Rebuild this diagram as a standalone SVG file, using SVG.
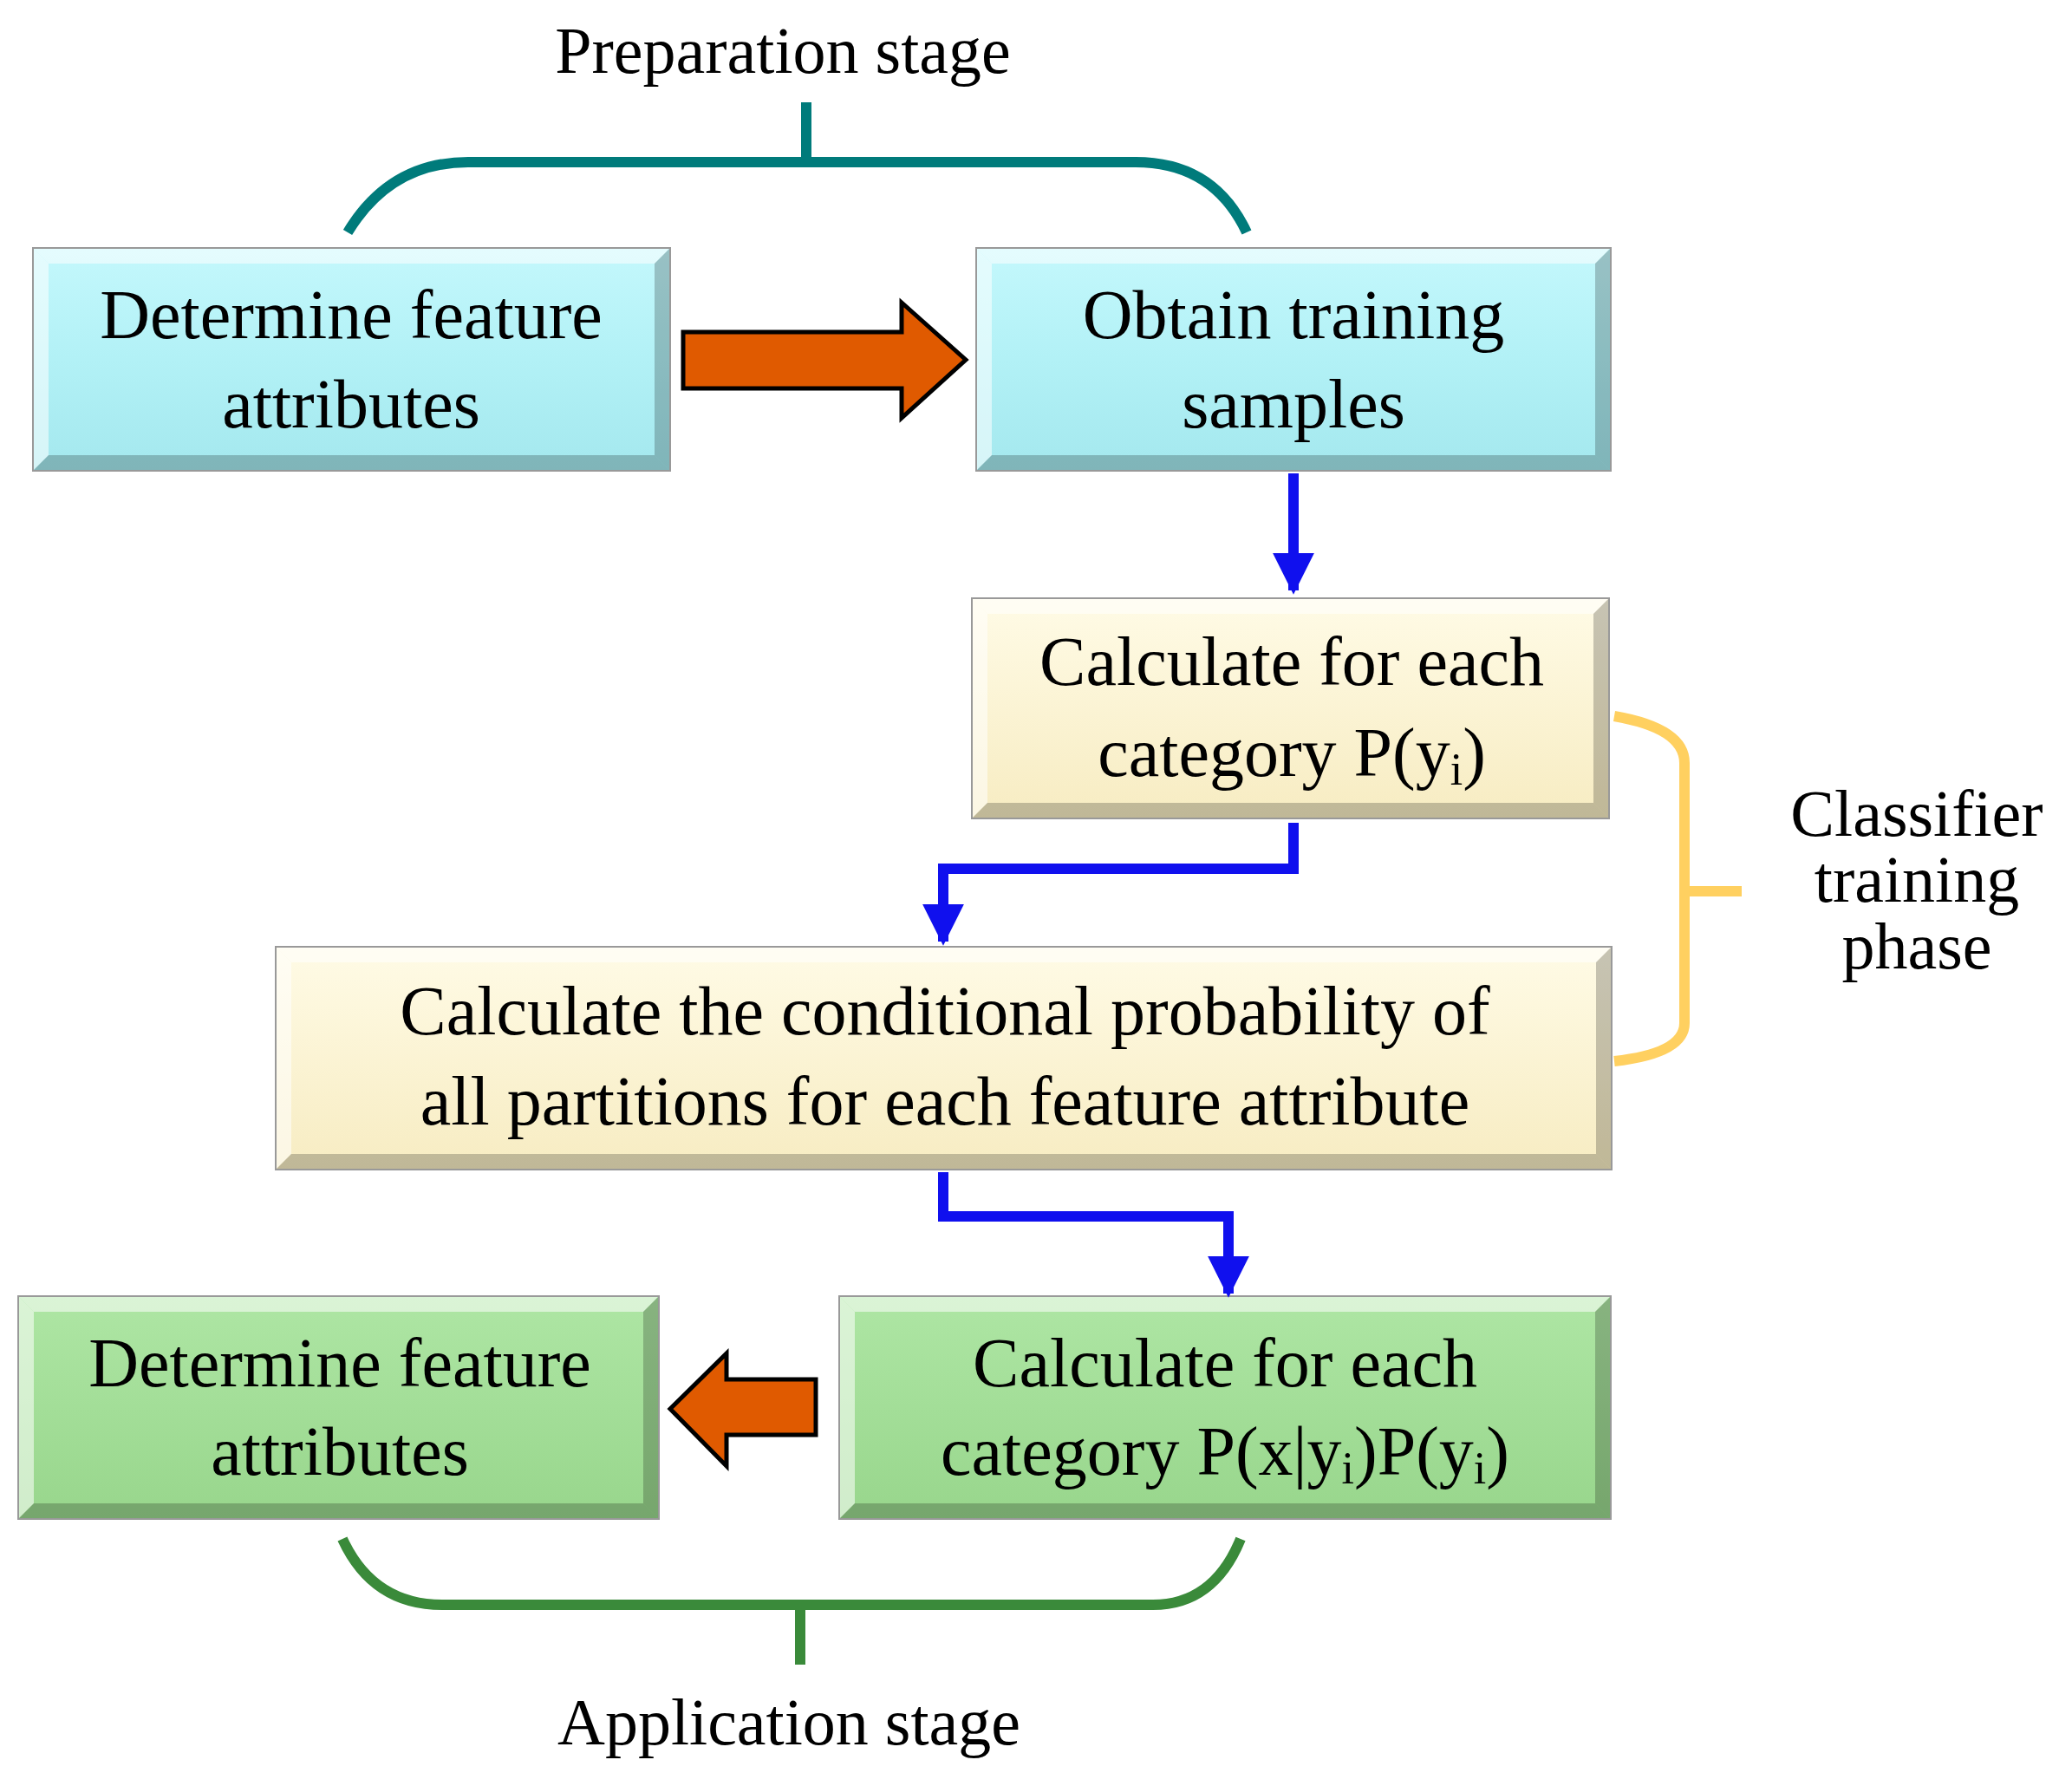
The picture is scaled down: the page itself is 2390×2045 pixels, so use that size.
<svg xmlns="http://www.w3.org/2000/svg" width="2390" height="2045" viewBox="0 0 2390 2045">
<defs>
<linearGradient id="gc" x1="0" y1="0" x2="0" y2="1"><stop offset="0" stop-color="#c4f8fc"/><stop offset="0.5" stop-color="#b2f1f6"/><stop offset="1" stop-color="#a4e8ee"/></linearGradient>
<linearGradient id="gy" x1="0" y1="0" x2="0" y2="1"><stop offset="0" stop-color="#fffbe6"/><stop offset="1" stop-color="#f7ecc2"/></linearGradient>
<linearGradient id="gg" x1="0" y1="0" x2="0" y2="1"><stop offset="0" stop-color="#aee6a4"/><stop offset="1" stop-color="#98d68c"/></linearGradient>
<marker id="ab" viewBox="0 0 10 10" refX="9" refY="5" markerWidth="4" markerHeight="4" orient="auto" markerUnits="strokeWidth"><path d="M0,0 L10,5 L0,10 Z" fill="#1010ee"/></marker>
</defs>
<style>
.t{font-family:"Liberation Serif",serif;font-size:80px;fill:#000;text-anchor:middle}
.s{font-size:52px}
.hl{fill:#fff;opacity:0.55}
.sh{fill:#000;opacity:0.22}
.bd{fill:none;stroke:#999;stroke-width:2}
.bl{fill:none;stroke:#1010ee;stroke-width:12;marker-end:url(#ab)}
.br{fill:none;stroke-width:12}
.oa{fill:#e05a00;stroke:#000;stroke-width:5;stroke-linejoin:miter}
</style>
<rect width="2390" height="2045" fill="#fff"/>

<g id="n1">
<rect x="38" y="286" width="735" height="257" fill="url(#gc)"/>
<polygon class="hl" points="38,286 773,286 755,304 56,304"/><polygon class="hl" points="38,286 56,304 56,525 38,543"/>
<polygon class="sh" points="38,543 773,543 755,525 56,525"/><polygon class="sh" points="773,286 773,543 755,525 755,304"/>
<rect class="bd" x="38" y="286" width="735" height="257"/>
<text class="t" x="405" y="390">Determine feature</text><text class="t" x="405" y="493">attributes</text>
</g>
<g id="n2">
<rect x="1126" y="286" width="732" height="257" fill="url(#gc)"/>
<polygon class="hl" points="1126,286 1858,286 1840,304 1144,304"/><polygon class="hl" points="1126,286 1144,304 1144,525 1126,543"/>
<polygon class="sh" points="1126,543 1858,543 1840,525 1144,525"/><polygon class="sh" points="1858,286 1858,543 1840,525 1840,304"/>
<rect class="bd" x="1126" y="286" width="732" height="257"/>
<text class="t" x="1492" y="390">Obtain training</text><text class="t" x="1492" y="493">samples</text>
</g>
<g id="n3">
<rect x="1121" y="690" width="735" height="254" fill="url(#gy)"/>
<polygon class="hl" points="1121,690 1856,690 1838,708 1139,708"/><polygon class="hl" points="1121,690 1139,708 1139,926 1121,944"/>
<polygon class="sh" points="1121,944 1856,944 1838,926 1139,926"/><polygon class="sh" points="1856,690 1856,944 1838,926 1838,708"/>
<rect class="bd" x="1121" y="690" width="735" height="254"/>
<text class="t" x="1490" y="790">Calculate for each</text><text class="t" x="1490" y="895">category P(y<tspan class="s" dy="10">i</tspan><tspan dy="-10">)</tspan></text>
</g>
<g id="n4">
<rect x="318" y="1092" width="1541" height="257" fill="url(#gy)"/>
<polygon class="hl" points="318,1092 1859,1092 1841,1110 336,1110"/><polygon class="hl" points="318,1092 336,1110 336,1331 318,1349"/>
<polygon class="sh" points="318,1349 1859,1349 1841,1331 336,1331"/><polygon class="sh" points="1859,1092 1859,1349 1841,1331 1841,1110"/>
<rect class="bd" x="318" y="1092" width="1541" height="257"/>
<text class="t" x="1090" y="1193">Calculate the conditional probability of</text><text class="t" x="1090" y="1297">all partitions for each feature attribute</text>
</g>
<g id="n5">
<rect x="21" y="1495" width="739" height="257" fill="url(#gg)"/>
<polygon class="hl" points="21,1495 760,1495 742,1513 39,1513"/><polygon class="hl" points="21,1495 39,1513 39,1734 21,1752"/>
<polygon class="sh" points="21,1752 760,1752 742,1734 39,1734"/><polygon class="sh" points="760,1495 760,1752 742,1734 742,1513"/>
<rect class="bd" x="21" y="1495" width="739" height="257"/>
<text class="t" x="392" y="1599">Determine feature</text><text class="t" x="392" y="1701">attributes</text>
</g>
<g id="n6">
<rect x="968" y="1495" width="890" height="257" fill="url(#gg)"/>
<polygon class="hl" points="968,1495 1858,1495 1840,1513 986,1513"/><polygon class="hl" points="968,1495 986,1513 986,1734 968,1752"/>
<polygon class="sh" points="968,1752 1858,1752 1840,1734 986,1734"/><polygon class="sh" points="1858,1495 1858,1752 1840,1734 1840,1513"/>
<rect class="bd" x="968" y="1495" width="890" height="257"/>
<text class="t" x="1413" y="1599">Calculate for each</text><text class="t" x="1413" y="1701">category P(x|y<tspan class="s" dy="10">i</tspan><tspan dy="-10">)P(y</tspan><tspan class="s" dy="10">i</tspan><tspan dy="-10">)</tspan></text>
</g>

<g id="labels">
<text class="t" x="903" y="84" style="font-size:76px">Preparation stage</text>
<text class="t" x="910" y="2012" style="font-size:76px">Application stage</text>
<text class="t" x="2211" y="964" style="font-size:76px">Classifier</text>
<text class="t" x="2211" y="1040" style="font-size:76px">training</text>
<text class="t" x="2211" y="1117" style="font-size:76px">phase</text>
</g>

<g id="connectors">
<path class="br" stroke="#007b7b" d="M930,118 V187 M401,268 Q450,187 540,187 H1310 Q1400,187 1438,268"/>
<path class="br" stroke="#ffd060" d="M1862,826 Q1943,840 1943,880 V1180 Q1943,1215 1862,1224 M1943,1028 H2009"/>
<path class="br" stroke="#3a8a3a" d="M923,1851 V1920 M395,1775 Q430,1851 510,1851 H1330 Q1400,1851 1431,1775"/>
<polygon class="oa" points="788,383 1040,383 1040,349 1114,415 1040,482 1040,448 788,448"/>
<polygon class="oa" points="941,1591 838,1591 838,1561 773,1625 838,1691 838,1655 941,1655"/>
<path class="bl" d="M1492,546 V681"/>
<path class="bl" d="M1492,949 V1002 H1088 V1086"/>
<path class="bl" d="M1088,1352 V1403 H1417 V1492"/>
</g>
</svg>
